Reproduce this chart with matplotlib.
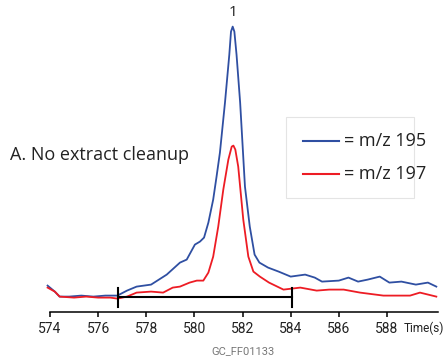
import matplotlib
matplotlib.use("Agg")
import matplotlib.pyplot as plt
from matplotlib.patches import Rectangle
from matplotlib.lines import Line2D

# chromatogram traces (time in s, relative abundance)
time_195 = [573.9, 574.2, 574.4, 574.8, 575.3, 575.8, 576.3, 576.8, 577.2, 577.6,
            578.2, 578.85, 579.4, 579.68, 580.02, 580.23, 580.4, 580.58, 580.78, 580.92,
            581.06, 581.27, 581.45, 581.52, 581.59, 581.66, 581.75, 581.9, 582.1, 582.3,
            582.5, 582.7, 583.06, 583.5, 584.0, 584.6, 585.0, 585.3, 586.0, 586.4,
            586.8, 587.2, 587.7, 588.1, 588.6, 589.2, 589.7, 590.05]
mz_195 = [26, 20, 15, 15, 16, 15, 16, 16, 21, 25,
          27, 37, 49, 52, 67, 70, 74, 89, 112, 135,
          159, 209, 257, 280, 285, 280, 257, 209, 125, 85,
          57, 49, 44, 40, 35, 37, 34, 30, 31, 34,
          30, 32, 35, 29, 30, 27, 29, 25]

time_197 = [573.9, 574.2, 574.4, 575.0, 575.5, 576.0, 576.5, 576.8, 577.2, 577.6,
            578.2, 578.7, 579.1, 579.4, 579.8, 580.1, 580.37, 580.58, 580.78, 580.99,
            581.2, 581.41, 581.55, 581.62, 581.7, 581.82, 582.03, 582.24, 582.45, 582.72,
            583.1, 583.7, 584.4, 585.08, 585.6, 586.2, 586.88, 587.85, 588.96, 589.37,
            590.05]
mz_197 = [24, 20, 15, 14, 15, 14, 14, 13, 15, 19,
          20, 19, 24, 25, 29, 31, 31, 39, 55, 85,
          122, 152, 165, 166, 162, 145, 92, 55, 40, 35,
          29, 22, 24, 21, 22, 22, 19, 16, 16, 19,
          15]

ticks = [574, 576, 578, 580, 582, 584, 586, 588]
window = (576.83, 584.05)
peak_time, peak_name = 581.6, "1"

W, H = 446, 362
fig = plt.figure(figsize=(W / 100, H / 100), dpi=100)
ax = fig.add_axes([40 / W, 50.4 / H, 400 / W, 311.6 / H])
ax.set_xlim(573.585, 590.203)
ax.set_ylim(0, 311.6)

ax.plot(time_195, mz_195, color="#2f4fa2", lw=1.3, solid_joinstyle="round")
ax.plot(time_197, mz_197, color="#ed1c24", lw=1.3, solid_joinstyle="round")

# integration window bracket
ax.plot(window, [14.5, 14.5], color="black", lw=1.5)
for t in window:
    ax.plot([t, t], [5, 24], color="black", lw=1.5)

ax.text(peak_time, 299, peak_name, ha="center", va="center", fontsize=11,
        family=["Open Sans", "DejaVu Sans"], color="#222222")

for s in ["top", "right", "left"]:
    ax.spines[s].set_visible(False)
ax.spines["bottom"].set_bounds(574, 590.1)
ax.spines["bottom"].set_linewidth(1.1)
ax.set_yticks([])
ax.set_xticks(ticks)
ax.tick_params(axis="x", length=3.5, width=1.1, pad=4, labelsize=10)
for lab in ax.get_xticklabels():
    lab.set_family(["Roboto", "DejaVu Sans"])
    lab.set_color("#222222")

fig.text(444 / W, 1 - 328 / H, "Time(s)", ha="right", va="center", fontsize=8.5,
         family=["Roboto", "DejaVu Sans"], color="#222222")
fig.text(243 / W, 1 - 351 / H, "GC_FF01133", ha="center", va="center", fontsize=8,
         family=["Roboto", "DejaVu Sans"], color="#777777")

fig.text(10 / W, 1 - 155 / H, "A. No extract cleanup", ha="left", va="center",
         fontsize=13, family=["Open Sans", "DejaVu Sans"], color="#222222")

# legend box, drawn by hand
fig.patches.append(Rectangle((286 / W, 1 - 198 / H), 128 / W, 81 / H,
                             transform=fig.transFigure, fill=False,
                             edgecolor="#e4e4e4", lw=0.8))
for yy, col, txt in [(141, "#2f4fa2", "= m/z 195"), (174, "#ed1c24", "= m/z 197")]:
    fig.lines.append(Line2D([303 / W, 339 / W], [1 - yy / H, 1 - yy / H],
                            transform=fig.transFigure, color=col, lw=1.5))
    fig.text(344 / W, 1 - yy / H, txt, ha="left", va="center", fontsize=13,
             family=["Open Sans", "DejaVu Sans"], color="#222222")

fig.savefig("out.png", dpi=100)
